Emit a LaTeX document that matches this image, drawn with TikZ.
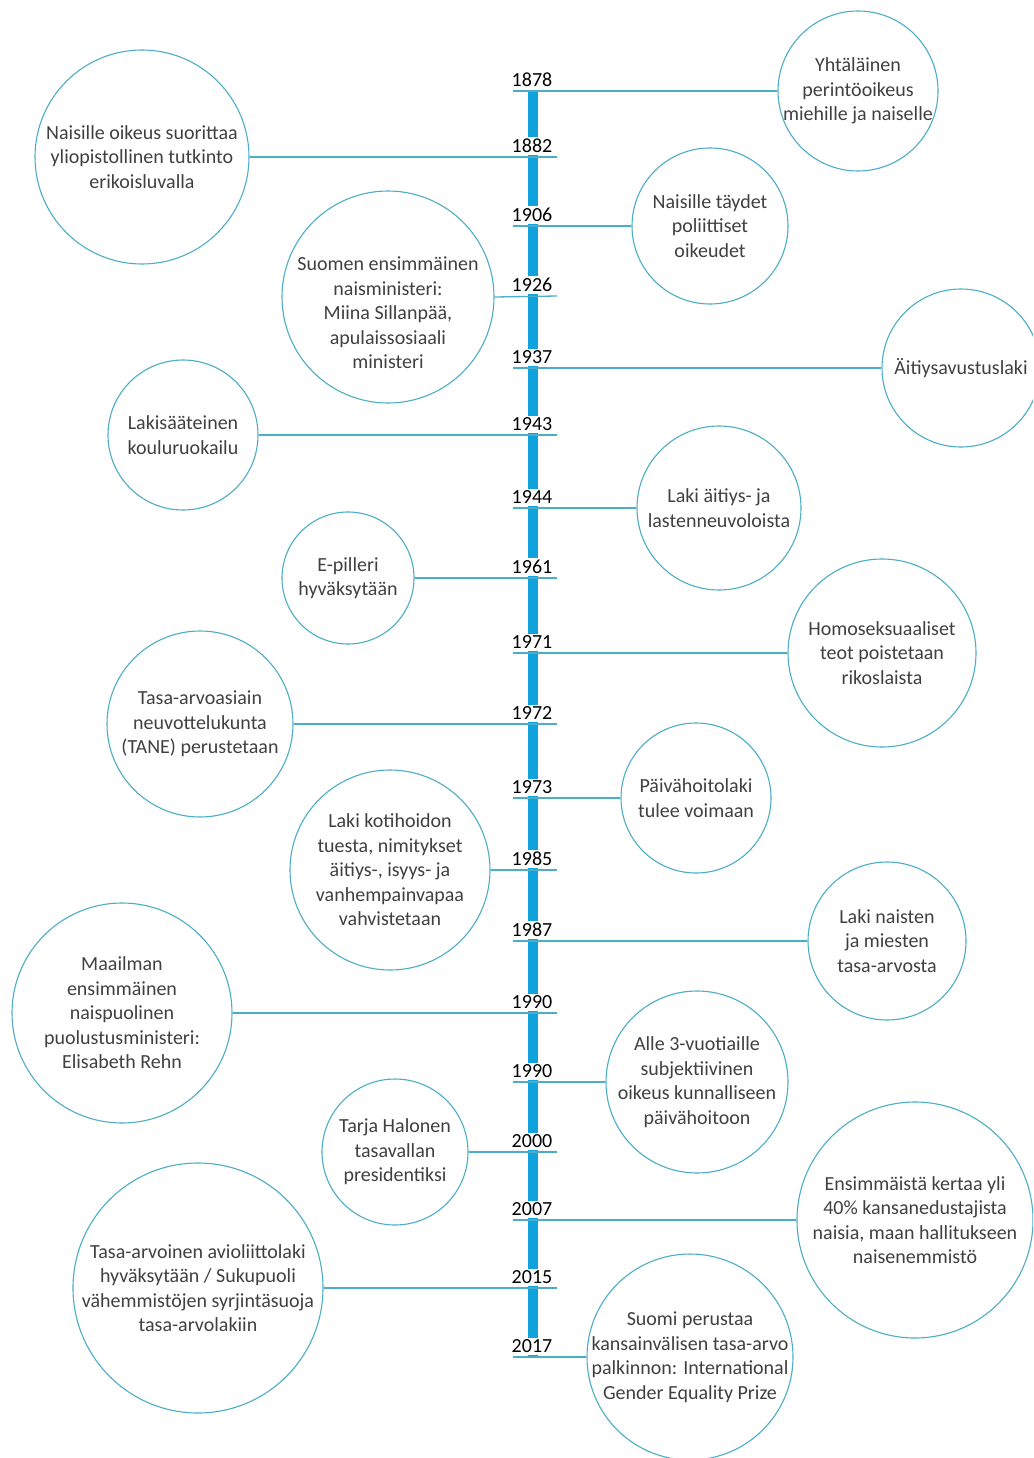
\documentclass[tikz,border=0pt]{standalone}
\usepackage{fontspec}
\setmainfont{Carlito}
\definecolor{barblue}{HTML}{10A2DC}
\definecolor{rimteal}{HTML}{4BADC6}
\definecolor{txtgray}{HTML}{404040}

\begin{document}
\begin{tikzpicture}[x=1pt,y=-1pt,
  yr/.style={fill=white,inner xsep=2pt,inner ysep=2pt,anchor=south,text=black,font=\fontsize{20}{24}\selectfont},
  ev/.style={circle,draw=rimteal,line width=1.1pt,fill=white,inner sep=0pt},
  evtext/.style={align=center,text=txtgray,font=\fontsize{20}{24.5}\selectfont},
  ln/.style={draw=rimteal,line width=1.3pt}]
  \useasboundingbox (0,0) rectangle (1033,1458);
  \clip (0,0) rectangle (1033,1458);

  % spine
  \coordinate (top) at (533,91);
  \coordinate (bot) at (533,1357);
  \draw[barblue,line width=9.5pt] (top) -- (bot);

  % years
  \node[yr] (y1878) at (532,89) {1878};
  \node[yr] (y1882) at (532,155) {1882};
  \node[yr] (y1906) at (532,224) {1906};
  \node[yr] (y1926) at (532,294) {1926};
  \node[yr] (y1937) at (532,366) {1937};
  \node[yr] (y1943) at (532,433) {1943};
  \node[yr] (y1944) at (532,506) {1944};
  \node[yr] (y1961) at (532,576) {1961};
  \node[yr] (y1971) at (532,651) {1971};
  \node[yr] (y1972) at (532,722) {1972};
  \node[yr] (y1973) at (532,796) {1973};
  \node[yr] (y1985) at (532,868) {1985};
  \node[yr] (y1987) at (532,939) {1987};
  \node[yr] (y1990a) at (532,1011) {1990};
  \node[yr] (y1990b) at (532,1080) {1990};
  \node[yr] (y2000) at (532,1150) {2000};
  \node[yr] (y2007) at (532,1218) {2007};
  \node[yr] (y2015) at (532,1286) {2015};
  \node[yr] (y2017) at (532,1355) {2017};

  % events, right side
  \coordinate (l1878) at (513,91);
  \node[ev,minimum size=160,label={[evtext]center:{Yhtäläinen\\perintöoikeus\\miehille ja naiselle}}] (e1878) at (858,91) {};
  \draw[ln] (l1878) -- (e1878.west);

  \coordinate (l1906) at (513,226);
  \node[ev,minimum size=156,label={[evtext]center:{Naisille täydet\\poliittiset\\oikeudet}}] (e1906) at (710,226) {};
  \draw[ln] (l1906) -- (e1906.west);

  \coordinate (l1937) at (513,368);
  \node[ev,minimum size=158,label={[evtext]center:{Äitiysavustuslaki}}] (e1937) at (961,368) {};
  \draw[ln] (l1937) -- (e1937.west);

  \coordinate (l1944) at (513,508);
  \node[ev,minimum size=164,label={[evtext]center:{Laki äitiys- ja\\lastenneuvoloista}}] (e1944) at (719,508) {};
  \draw[ln] (l1944) -- (e1944.west);

  \coordinate (l1971) at (513,653);
  \node[ev,minimum size=188,label={[evtext]center:{Homoseksuaaliset\\teot poistetaan\\rikoslaista}}] (e1971) at (882,653) {};
  \draw[ln] (l1971) -- (e1971.west);

  \coordinate (l1973) at (513,798);
  \node[ev,minimum size=150,label={[evtext]center:{Päivähoitolaki\\tulee voimaan}}] (e1973) at (696,798) {};
  \draw[ln] (l1973) -- (e1973.west);

  \coordinate (l1987) at (513,941);
  \node[ev,minimum size=158,label={[evtext]center:{Laki naisten\\ja miesten\\tasa-arvosta}}] (e1987) at (887,941) {};
  \draw[ln] (l1987) -- (e1987.west);

  \coordinate (l1990b) at (513,1082);
  \node[ev,minimum size=182,label={[evtext]center:{Alle 3-vuotiaille\\subjektiivinen\\oikeus kunnalliseen\\päivähoitoon}}] (e1990b) at (697,1082) {};
  \draw[ln] (l1990b) -- (e1990b.west);

  \coordinate (l2007) at (513,1220);
  \node[ev,minimum size=236,label={[evtext]center:{Ensimmäistä kertaa yli\\40\% kansanedustajista\\naisia, maan hallitukseen\\naisenemmistö}}] (e2007) at (915,1220) {};
  \draw[ln] (l2007) -- (e2007.west);

  \coordinate (l2017) at (513,1357);
  \node[ev,minimum size=206,label={[evtext]center:{Suomi perustaa\\kansainvälisen tasa-arvo\\palkinnon: International\\Gender Equality Prize}}] (e2017) at (690,1357) {};
  \draw[ln] (l2017) -- (e2017.west);

  % events, left side
  \coordinate (r1882) at (557,157);
  \node[ev,minimum size=214,label={[evtext]center:{Naisille oikeus suorittaa\\yliopistollinen tutkinto\\erikoisluvalla}}] (e1882) at (142,157) {};
  \draw[ln] (e1882.east) -- (r1882);

  \coordinate (r1926) at (557,296);
  \node[ev,minimum size=212,label={[evtext,yshift=-16pt]center:{Suomen ensimmäinen\\naisministeri:\\Miina Sillanpää,\\apulaissosiaali\\ministeri}}] (e1926) at (388,297) {};
  \draw[ln] (e1926.east) -- (r1926);

  \coordinate (r1943) at (557,435);
  \node[ev,minimum size=150,label={[evtext]center:{Lakisääteinen\\kouluruokailu}}] (e1943) at (183,435) {};
  \draw[ln] (e1943.east) -- (r1943);

  \coordinate (r1961) at (557,578);
  \node[ev,minimum size=132,label={[evtext]center:{E-pilleri\\hyväksytään}}] (e1961) at (348,578) {};
  \draw[ln] (e1961.east) -- (r1961);

  \coordinate (r1972) at (557,724);
  \node[ev,minimum size=186,label={[evtext]center:{Tasa-arvoasiain\\neuvottelukunta\\(TANE) perustetaan}}] (e1972) at (200,724) {};
  \draw[ln] (e1972.east) -- (r1972);

  \coordinate (r1985) at (557,870);
  \node[ev,minimum size=200,label={[evtext]center:{Laki kotihoidon\\tuesta, nimitykset\\äitiys-, isyys- ja\\vanhempainvapaa\\vahvistetaan}}] (e1985) at (390,870) {};
  \draw[ln] (e1985.east) -- (r1985);

  \coordinate (r1990a) at (557,1013);
  \node[ev,minimum size=220,label={[evtext]center:{Maailman\\ensimmäinen\\naispuolinen\\puolustusministeri:\\Elisabeth Rehn}}] (e1990a) at (122,1013) {};
  \draw[ln] (e1990a.east) -- (r1990a);

  \coordinate (r2000) at (557,1152);
  \node[ev,minimum size=146,label={[evtext]center:{Tarja Halonen\\tasavallan\\presidentiksi}}] (e2000) at (395,1152) {};
  \draw[ln] (e2000.east) -- (r2000);

  \coordinate (r2015) at (557,1288);
  \node[ev,minimum size=250,label={[evtext]center:{Tasa-arvoinen avioliittolaki\\hyväksytään / Sukupuoli\\vähemmistöjen syrjintäsuoja\\tasa-arvolakiin}}] (e2015) at (198,1288) {};
  \draw[ln] (e2015.east) -- (r2015);
\end{tikzpicture}
\end{document}
